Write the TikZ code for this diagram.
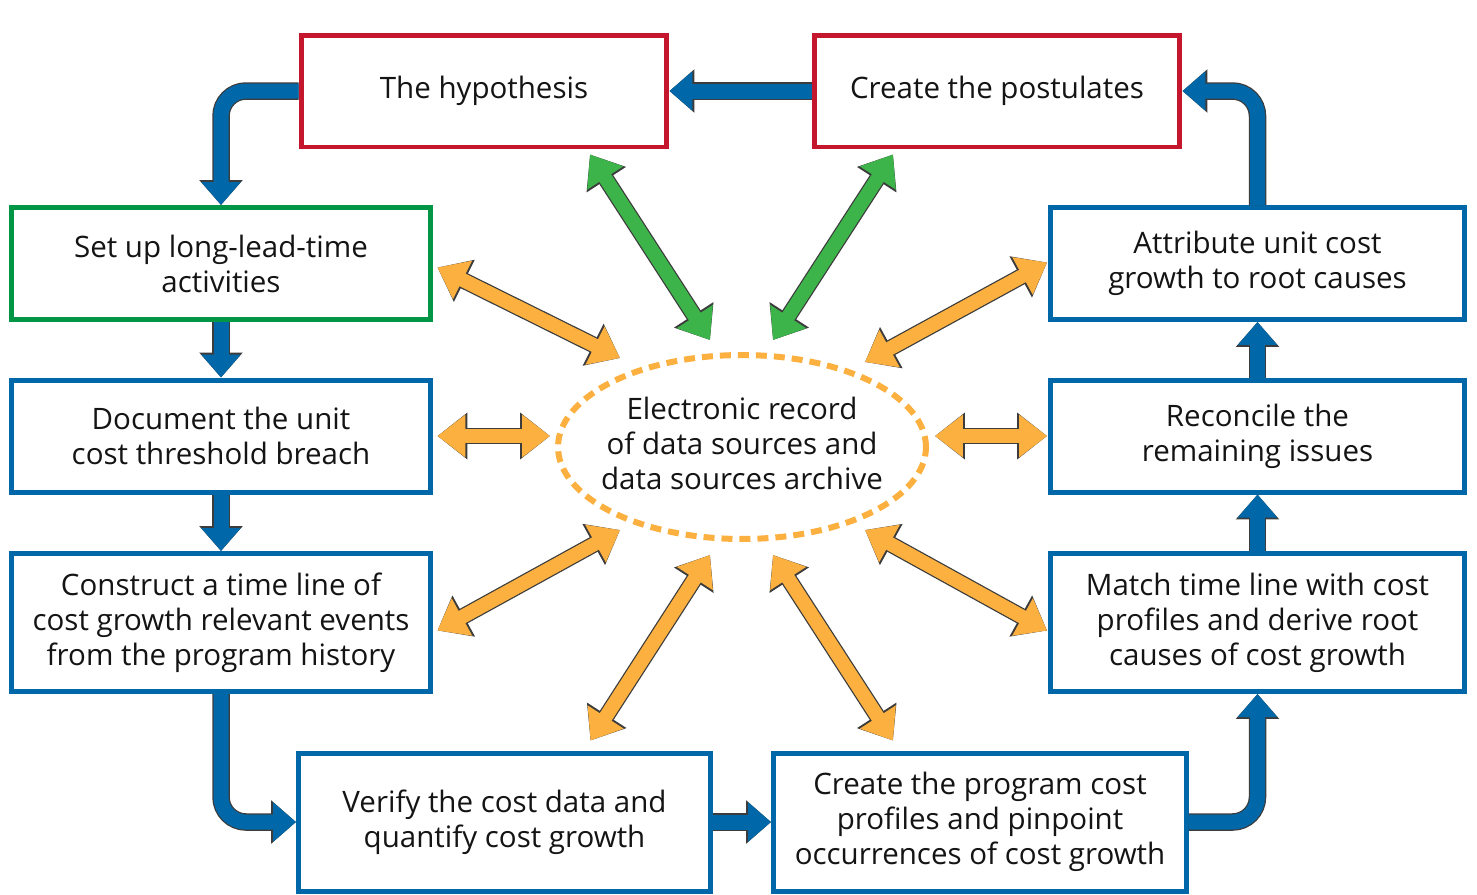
\documentclass[tikz,border=0pt]{standalone}
\usepackage{fontspec}
\setmainfont{Open Sans}
\usepackage{tikz}
\usetikzlibrary{arrows.meta, calc, shapes.geometric}
\definecolor{flowblue}{RGB}{0,104,168}
\definecolor{boxred}{RGB}{196,22,44}
\definecolor{boxgreen}{RGB}{0,150,70}
\definecolor{lnkgreen}{RGB}{60,180,74}
\definecolor{lnkorange}{RGB}{251,176,64}
\definecolor{rim}{RGB}{60,60,60}

\begin{document}
\begin{tikzpicture}[x=0.02cm, y=-0.02cm,
	box/.style={draw, line width=0.1cm, fill=white, align=center, inner sep=0pt,
		text=black!92, font=\fontsize{16.8}{19.9}\selectfont},
	flow/.style={draw=flowblue, line width=0.3cm, rounded corners=0.5cm,
		-{Triangle[length=0.46cm, width=0.76cm]},
		preaction={draw=rim, line width=0.35cm, -{Triangle[length=0.5cm, width=0.84cm]}}},
	link/.style={line width=0.28cm,
		{Triangle[length=0.56cm, width=0.82cm]}-{Triangle[length=0.56cm, width=0.82cm]},
		preaction={draw=rim, line width=0.33cm,
			{Triangle[length=0.6cm, width=0.9cm]}-{Triangle[length=0.6cm, width=0.9cm]}}}]
	\useasboundingbox (0,0) rectangle (1477,894);

	% boxes
	\node[box, draw=boxred, minimum width=7.32cm, minimum height=2.24cm] (hyp) at (484,91) {The hypothesis};
	\node[box, draw=boxred, minimum width=7.32cm, minimum height=2.24cm] (post) at (997,91) {Create the postulates};
	\node[box, draw=boxgreen, minimum width=8.4cm, minimum height=2.24cm] (setup) at (221,263.5) {Set up long-lead-time\\activities};
	\node[box, draw=flowblue, minimum width=8.4cm, minimum height=2.24cm] (doc) at (221,436) {Document the unit\\cost threshold breach};
	\node[box, draw=flowblue, minimum width=8.4cm, minimum height=2.76cm] (cons) at (221,622.5) {Construct a time line of\\cost growth relevant events\\from the program history};
	\node[box, draw=flowblue, minimum width=8.24cm, minimum height=2.76cm] (verify) at (504.5,822) {Verify the cost data and\\quantify cost growth};
	\node[box, draw=flowblue, minimum width=8.26cm, minimum height=2.76cm] (create) at (980,822) {Create the program cost\\profiles and pinpoint\\occurrences of cost growth};
	\node[box, draw=flowblue, minimum width=8.28cm, minimum height=2.76cm] (match) at (1257.5,622.5) {Match time line with cost\\profiles and derive root\\causes of cost growth};
	\node[box, draw=flowblue, minimum width=8.28cm, minimum height=2.24cm] (rec) at (1257.5,436) {Reconcile the\\remaining issues};
	\node[box, draw=flowblue, minimum width=8.28cm, minimum height=2.24cm] (attr) at (1257.5,263.5) {Attribute unit cost\\growth to root causes};
	\node[box, ellipse, draw=lnkorange, fill=none, line width=0.12cm, dash pattern=on 0.22cm off 0.14cm,
		minimum width=7.36cm, minimum height=3.68cm] (ell) at (742,447) {};
	\node[box, draw=none, fill=none] (arch) at (742,443) {Electronic record\\of data sources and\\data sources archive};

	% process flow
	\draw[flow] (post.west) -- (hyp.east);
	\draw[flow] (hyp.west) -| (setup.north);
	\draw[flow] (setup.south) -- (doc.north);
	\draw[flow] (doc.south) -- (cons.north);
	\draw[flow] (cons.south) |- (verify.west);
	\draw[flow] (verify.east) -- (create.west);
	\draw[flow] (create.east) -| (match.south);
	\draw[flow] (match.north) -- (rec.south);
	\draw[flow] (rec.north) -- (attr.south);
	\draw[flow] (attr.north) |- (post.east);

	% links to the archive
	\draw[link, draw=lnkgreen] ($(hyp.south)+(106,5)$) -- ($(ell.north)+(-32,-12)$);
	\draw[link, draw=lnkgreen] ($(post.south)+(-104,5)$) -- ($(ell.north)+(31,-12)$);
	\draw[link, draw=lnkorange] ($(setup.east)+(4,4)$) -- ($(ell.center)+(-122,-89)$);
	\draw[link, draw=lnkorange] ($(doc.east)+(4,0)$) -- ($(ell.west)+(-5,-11)$);
	\draw[link, draw=lnkorange] ($(cons.east)+(4,8)$) -- ($(ell.center)+(-122,83)$);
	\draw[link, draw=lnkorange] ($(verify.north)+(86,-10)$) -- ($(ell.south)+(-32,13)$);
	\draw[link, draw=lnkorange] ($(create.north)+(-87,-10)$) -- ($(ell.south)+(31,13)$);
	\draw[link, draw=lnkorange] ($(match.west)+(-1,8)$) -- ($(ell.center)+(123,83)$);
	\draw[link, draw=lnkorange] ($(rec.west)+(-1,0)$) -- ($(ell.east)+(6,-11)$);
	\draw[link, draw=lnkorange] ($(attr.west)+(-1,-1)$) -- ($(ell.center)+(123,-85)$);
\end{tikzpicture}
\end{document}
